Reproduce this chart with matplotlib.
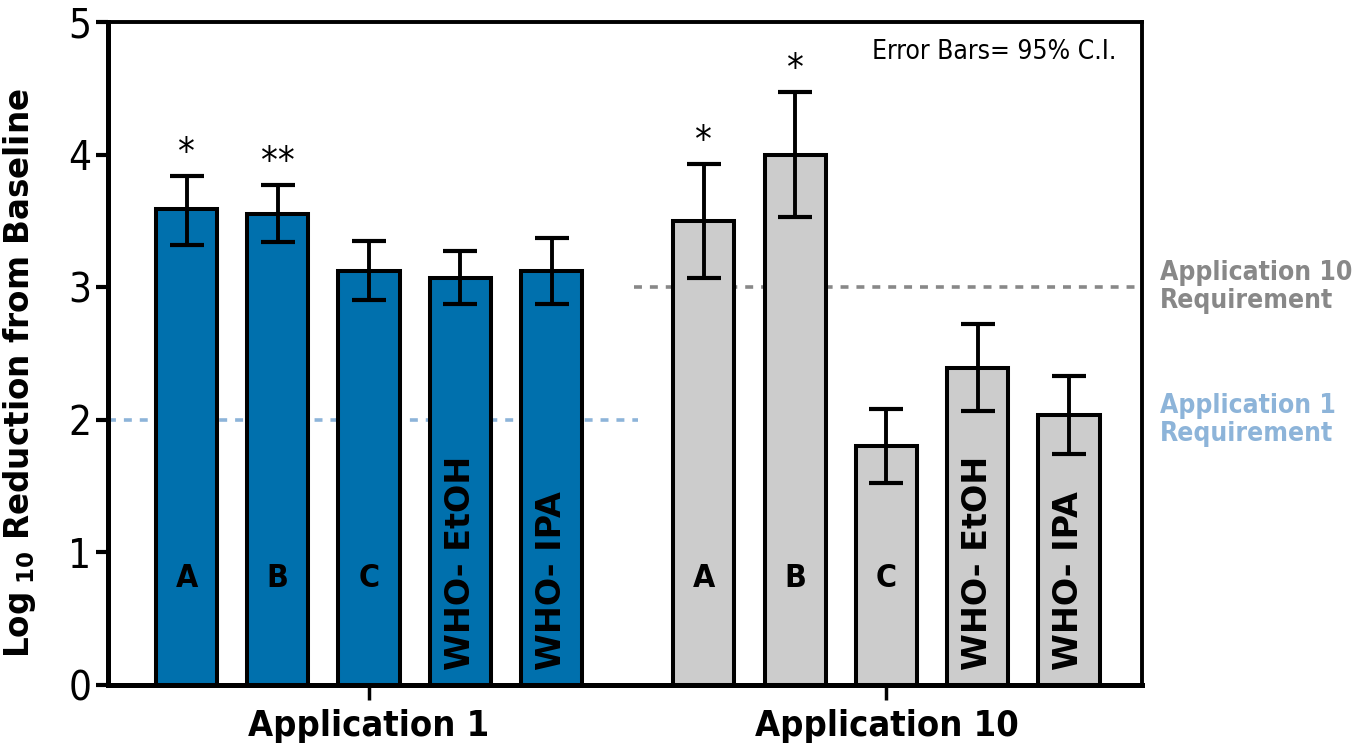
import matplotlib
matplotlib.use("Agg")
import matplotlib.pyplot as plt
import numpy as np

# values
groups = ["Application 1", "Application 10"]
products = ["A", "B", "C", "WHO- EtOH", "WHO- IPA"]
app1_mean = [3.59, 3.55, 3.12, 3.07, 3.12]
app1_low = [3.32, 3.34, 2.90, 2.87, 2.87]
app1_high = [3.84, 3.77, 3.35, 3.27, 3.37]
app10_mean = [3.50, 4.00, 1.80, 2.39, 2.04]
app10_low = [3.07, 3.53, 1.52, 2.07, 1.74]
app10_high = [3.93, 4.47, 2.08, 2.72, 2.33]
app1_stars = ["*", "**", "", "", ""]
app10_stars = ["*", "*", "", "", ""]
app1_requirement = 2
app10_requirement = 3

BLUE = "#0070ad"
GREY = "#cccccc"
FONT = ["DejaVu Sans"]

fig = plt.figure(figsize=(13.64, 7.47), dpi=100)
ax = fig.add_axes([0.0792, 0.083, 0.7580, 0.8875])

x1 = np.arange(5)
x10 = np.arange(5) + 5.67
width = 0.67


def draw_group(x, mean, low, high, color, stars):
    mean = np.array(mean)
    err = [mean - np.array(low), np.array(high) - mean]
    ax.bar(x, mean, width, color=color, edgecolor="black", linewidth=2.9, zorder=2)
    ax.errorbar(x, mean, yerr=err, fmt="none", ecolor="black", elinewidth=2.8,
                capsize=12.5, capthick=3, zorder=3)
    for xi, hi, s in zip(x, high, stars):
        if s:
            ax.text(xi, hi + 0.03, s, ha="center", va="bottom", fontsize=27,
                    family=FONT, fontstretch="condensed")
    for xi, name in zip(x, products):
        if name.startswith("WHO"):
            ax.text(xi, 0.11, name, rotation=90, ha="center", va="bottom",
                    fontsize=24, fontweight="bold", family=FONT)
        else:
            ax.text(xi, 0.8, name, ha="center", va="center", fontsize=23,
                    fontweight="bold", family=FONT, fontstretch="condensed")


draw_group(x1, app1_mean, app1_low, app1_high, BLUE, app1_stars)
draw_group(x10, app10_mean, app10_low, app10_high, GREY, app10_stars)

xmin, xmax = -0.86, 10.47
ax.plot([xmin, 4.95], [app1_requirement] * 2, ls=(0, (2.2, 2.2)), color="#8db4d9",
        lw=2.6, zorder=1)
ax.plot([4.9, xmax], [app10_requirement] * 2, ls=(0, (2.2, 2.2)), color="#888888",
        lw=2.6, zorder=1)

ax.set_xlim(xmin, xmax)
ax.set_ylim(0, 5)
ax.set_yticks([0, 1, 2, 3, 4, 5])
ax.set_xticks([x1.mean(), x10.mean()])
ax.set_xticklabels(groups, fontsize=26, fontweight="bold", family=FONT,
                   fontstretch="condensed")
for lab in ax.get_yticklabels():
    lab.set_fontsize(29)
    lab.set_family(FONT)
    lab.set_fontstretch("condensed")
ax.tick_params(axis="y", length=9, width=3, pad=3)
ax.tick_params(axis="x", length=11, width=2.5, pad=6)

for side in ["left", "bottom"]:
    ax.spines[side].set_linewidth(3.6)
for side in ["top", "right"]:
    ax.spines[side].set_linewidth(2.8)

ax.set_ylabel(r"Log$_{\ \mathbf{10}}$ Reduction from Baseline", fontsize=23.5,
              fontweight="bold", family=FONT)
ax.yaxis.set_label_coords(-0.068, 0.47)

ax.text(0.975, 0.975, "Error Bars= 95% C.I.", transform=ax.transAxes, ha="right",
        va="top", fontsize=19, family=FONT, fontstretch="condensed")

ax.text(xmax + 0.2, app10_requirement, "Application 10\nRequirement", ha="left",
        va="center", fontsize=19, fontweight="bold", color="#888888", family=FONT,
        fontstretch="condensed", linespacing=1.1, clip_on=False)
ax.text(xmax + 0.2, app1_requirement, "Application 1\nRequirement", ha="left",
        va="center", fontsize=19, fontweight="bold", color="#8db4d9", family=FONT,
        fontstretch="condensed", linespacing=1.1, clip_on=False)

fig.savefig("out.png", dpi=100)
